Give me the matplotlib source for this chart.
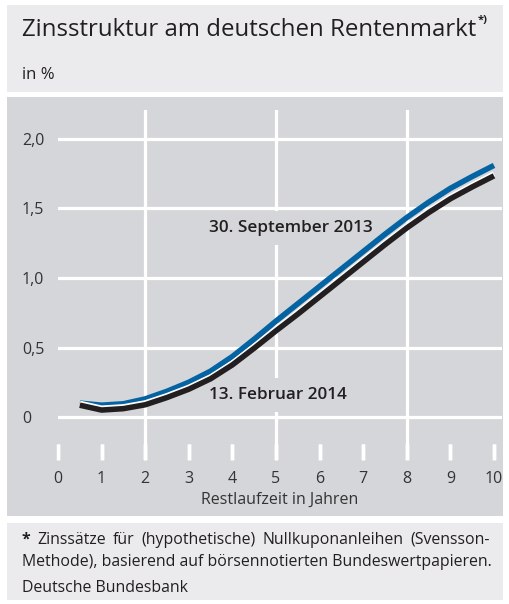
import matplotlib
matplotlib.use("Agg")
import matplotlib.pyplot as plt
from matplotlib.patches import Rectangle
import matplotlib.patheffects as pe

# ---- data ----
maturity = [0.5, 1.0, 1.5, 2.0, 2.5, 3.0, 3.5, 4.0, 4.5, 5.0,
            5.5, 6.0, 6.5, 7.0, 7.5, 8.0, 8.5, 9.0, 9.5, 10.0]
sep_2013 = [0.10, 0.085, 0.095, 0.13, 0.185, 0.25, 0.33, 0.435, 0.56, 0.69,
            0.815, 0.94, 1.065, 1.19, 1.315, 1.435, 1.545, 1.645, 1.73, 1.81]
feb_2014 = [0.085, 0.05, 0.06, 0.088, 0.14, 0.20, 0.275, 0.375, 0.495, 0.62,
            0.74, 0.865, 0.99, 1.115, 1.24, 1.36, 1.47, 1.57, 1.655, 1.735]
x_ticks = list(range(0, 11))
y_ticks = [0, 0.5, 1.0, 1.5, 2.0]
y_tick_labels = ["0", "0,5", "1,0", "1,5", "2,0"]
v_grid = [2, 5, 8]

W, H = 510, 604
plt.rcParams['font.family'] = ['Open Sans', 'DejaVu Sans']
fig = plt.figure(figsize=(W / 100, H / 100), dpi=100)
fig.patch.set_facecolor('white')

LIGHT = '#ebebed'
PANEL = '#d5d6d9'
TXT = '#231f20'
BLUE = '#0463a2'


def rect(x0, y0, x1, y1, color):
    fig.patches.append(Rectangle((x0 / W, 1 - y1 / H), (x1 - x0) / W, (y1 - y0) / H,
                                 transform=fig.transFigure, facecolor=color,
                                 edgecolor='none', zorder=-5))


rect(7, 5, 503, 92, LIGHT)
rect(7, 97, 503, 516, PANEL)
rect(7, 523, 503, 600, LIGHT)

# title
t = fig.text(22 / W, 1 - 36 / H, "Zinsstruktur am deutschen Rentenmarkt", fontsize=17.3,
             color=TXT, ha='left', va='baseline')
fig.text(22 / W, 1 - 75 / H, "in %", fontsize=12, color=TXT, ha='left', va='center')

# axes: x 0 at px 58, 10 at px 494; y 0 at px 417, 2.0 at px 139
px_per_x = (494 - 58) / 10
px_per_y = (417 - 139) / 2.0
ax_left, ax_right = 58, 502
ax_top, ax_bot = 110, 460
xmax = (ax_right - 58) / px_per_x
ymax = (417 - ax_top) / px_per_y
ymin = (417 - ax_bot) / px_per_y
ax = fig.add_axes([ax_left / W, 1 - ax_bot / H, (ax_right - ax_left) / W, (ax_bot - ax_top) / H])
ax.set_zorder(2)
ax.set_facecolor('none')
ax.set_xlim(0, xmax)
ax.set_ylim(ymin, ymax)
for s in ax.spines.values():
    s.set_visible(False)

for yv in y_ticks:
    ax.axhline(yv, color='white', lw=2.3, zorder=2)
for xv in v_grid:
    ax.axvline(xv, color='white', lw=2.3, zorder=2)
tick_frac = (ax_bot - 444) / (ax_bot - ax_top)
for xv in x_ticks:
    ax.axvline(xv, ymin=0, ymax=tick_frac, color='white', lw=2.5, zorder=3,
               solid_capstyle='butt')

ax.set_xticks(x_ticks)
ax.set_xticklabels([str(v) for v in x_ticks])
ax.set_yticks(y_ticks)
ax.set_yticklabels(y_tick_labels)
ax.tick_params(axis='x', direction='in', length=(ax_bot - 444) * 0.72, width=2.5,
               color='white', pad=8, labelsize=11.5, labelcolor='#333333')
ax.tick_params(axis='y', length=0, pad=26, labelsize=11.5, labelcolor='#333333')
for lab in ax.get_yticklabels():
    lab.set_horizontalalignment('left')
fig.text(280 / W, 1 - 500 / H, "Restlaufzeit in Jahren", fontsize=11.5, color='#333333',
         ha='center', va='center')

LW = 4.0
ax.plot(maturity, sep_2013, color=BLUE, lw=LW, zorder=5, solid_capstyle='butt',
        solid_joinstyle='round')
ax.plot(maturity, feb_2014, color=TXT, lw=LW, zorder=6, solid_capstyle='butt',
        solid_joinstyle='round',
        path_effects=[pe.Stroke(offset=(0, 1.3), linewidth=LW, foreground='white'),
                      pe.Normal()])

bb = dict(boxstyle='square,pad=0.5', facecolor=PANEL, edgecolor='none')
ax.text(3.46, (417 - 228) / px_per_y, "30. September 2013", fontsize=12.3,
        fontweight='semibold', color=TXT, ha='left', va='center', bbox=bb, zorder=4)
ax.text(3.46, (417 - 395) / px_per_y, "13. Februar 2014", fontsize=12.3,
        fontweight='semibold', color=TXT, ha='left', va='center', bbox=bb, zorder=4)

# footer
fs = 11.4
fig.canvas.draw()
r = fig.canvas.get_renderer()
words = ["*", "Zinssätze", "für", "(hypothetische)", "Nullkuponanleihen", "(Svensson-"]
objs = []
for i, w in enumerate(words):
    o = fig.text(0, 1 - 540 / H, w, fontsize=fs, color=TXT, ha='left', va='center',
                 fontweight='bold' if i == 0 else 'normal')
    objs.append(o)
widths = [o.get_window_extent(r).width for o in objs]
x0, x1 = 22, 490
gap = (x1 - x0 - sum(widths)) / (len(words) - 1)
xc = x0
for o, wd in zip(objs, widths):
    o.set_x(xc / W)
    xc += wd + gap
fig.text(22 / W, 1 - 562 / H, "Methode), basierend auf börsennotierten Bundeswertpapieren.",
         fontsize=fs, color=TXT, ha='left', va='center')
fig.text(22 / W, 1 - 588 / H, "Deutsche Bundesbank", fontsize=fs, color=TXT,
         ha='left', va='center')

# superscript after title
tb = t.get_window_extent(r)
fig.text((tb.x1 + 1) / W, 1 - 20 / H, "*)", fontsize=8, fontweight='bold', color=TXT,
         ha='left', va='center')

fig.savefig("out.png", dpi=100, facecolor='white')
